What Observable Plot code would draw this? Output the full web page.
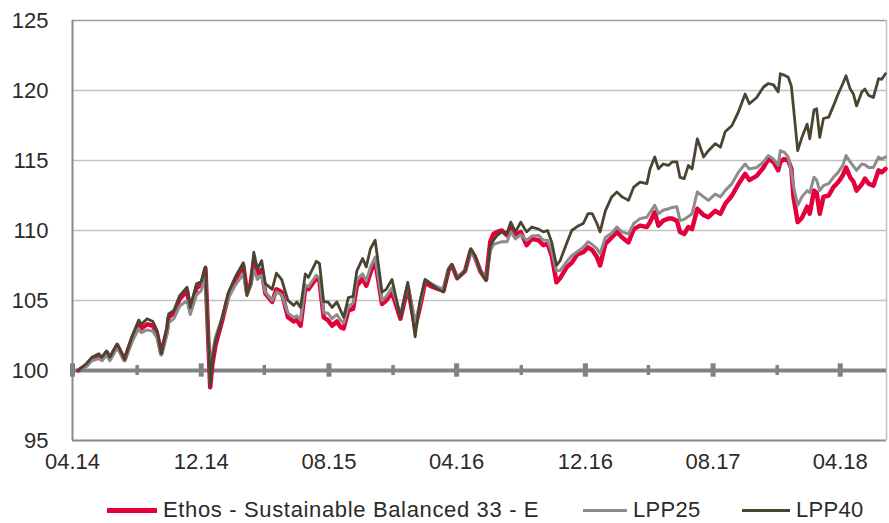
<!DOCTYPE html>
<html>
<head>
<meta charset="utf-8">
<script src="https://cdn.jsdelivr.net/npm/d3@7"></script>
<script src="https://cdn.jsdelivr.net/npm/@observablehq/plot@0.6"></script>
<style>
  html, body { margin: 0; padding: 0; background: #fff; }
  #wrap { position: relative; width: 889px; height: 523px; overflow: hidden; font-family: "Liberation Sans", Arial, sans-serif; color: #2b2b2b; }
  #legend { position: absolute; left: 0; top: 497px; width: 889px; height: 26px; font-size: 22px; line-height: 26px; }
  .item { position: absolute; top: 0; display: flex; align-items: center; white-space: nowrap; }
  .sw { display: inline-block; margin-right: 6px; }
</style>
</head>
<body>
<div id="wrap">
  <div id="chart"></div>
  <div id="legend"></div>
</div>
<script>
// ---- data ----
const seriesNames = ["Ethos - Sustainable Balanced 33 - E", "LPP25", "LPP40"];
const seriesColors = ["#e3003b", "#8c8c8c", "#4a4530"];

const dates = [
"2014-05-11","2014-05-27","2014-06-06","2014-06-19","2014-06-25","2014-07-04","2014-07-10","2014-07-24","2014-08-07","2014-08-22",
"2014-09-03","2014-09-08","2014-09-19","2014-09-30","2014-10-08","2014-10-16","2014-10-27","2014-10-30","2014-11-09","2014-11-20",
"2014-12-04","2014-12-10","2014-12-22","2014-12-31","2015-01-08","2015-01-17","2015-01-21","2015-01-27","2015-02-09","2015-02-21",
"2015-03-06","2015-03-21","2015-03-28","2015-04-04","2015-04-10","2015-04-17","2015-04-25","2015-05-02","2015-05-15","2015-05-23",
"2015-06-02","2015-06-14","2015-06-25","2015-07-01","2015-07-08","2015-07-17","2015-07-23","2015-08-07","2015-08-13","2015-08-21",
"2015-08-29","2015-09-06","2015-09-15","2015-09-22","2015-09-28","2015-10-07","2015-10-16","2015-10-23","2015-11-03","2015-11-10",
"2015-11-18","2015-11-27","2015-12-10","2015-12-18","2015-12-29","2016-01-14","2016-01-28","2016-02-11","2016-02-20","2016-03-01",
"2016-03-11","2016-03-24","2016-04-05","2016-04-15","2016-04-21","2016-05-01","2016-05-16","2016-05-27","2016-06-04","2016-06-14",
"2016-06-25","2016-07-03","2016-07-09","2016-07-16","2016-07-25","2016-08-04","2016-08-11","2016-08-20","2016-08-30","2016-09-10",
"2016-09-20","2016-10-03","2016-10-12","2016-10-20","2016-10-28","2016-11-06","2016-11-13","2016-11-26","2016-12-05","2016-12-16",
"2016-12-27","2017-01-05","2017-01-13","2017-01-22","2017-01-28","2017-02-07","2017-02-19","2017-03-01","2017-03-11","2017-03-23",
"2017-04-02","2017-04-14","2017-04-27","2017-05-03","2017-05-12","2017-05-19","2017-05-28","2017-06-07","2017-06-14","2017-06-23",
"2017-06-29","2017-07-07","2017-07-15","2017-07-22","2017-08-01","2017-08-13","2017-08-22","2017-09-04","2017-09-14","2017-09-23",
"2017-10-06","2017-10-18","2017-10-31","2017-11-08","2017-11-22","2017-12-05","2017-12-14","2017-12-24","2018-01-02","2018-01-06",
"2018-01-13","2018-01-21","2018-01-27","2018-01-31","2018-02-08","2018-02-16","2018-02-26","2018-03-03","2018-03-11","2018-03-16",
"2018-03-22","2018-03-29","2018-04-08","2018-04-17","2018-04-26","2018-05-05","2018-05-11","2018-05-19","2018-05-25","2018-05-31",
"2018-06-10","2018-06-16","2018-06-23","2018-07-02","2018-07-12","2018-07-18","2018-07-25"
];

const ethos = [
100,100.4,100.8,101.05,100.8,101.3,100.85,101.8,100.75,102.35,
103.3,103.0,103.3,103.2,102.6,101.2,102.9,103.8,104.1,105.1,
105.7,104.3,105.9,106.1,107.3,98.8,100.4,101.8,103.6,105.4,
106.5,107.5,105.6,106.2,107.8,106.9,107.2,105.5,104.9,105.8,
105.6,103.8,103.5,103.6,103.2,105.9,105.8,106.6,106.4,103.8,
103.6,103.2,103.5,103.1,103.0,104.3,104.4,106.05,106.55,106.05,
107.0,107.85,104.75,105.0,105.6,103.7,105.95,103.1,104.5,106.3,
106.05,105.85,105.7,107.2,107.5,106.6,107.1,108.6,108.1,107.1,
106.5,109.2,109.75,109.9,110.0,109.65,110.35,109.65,109.9,108.95,
109.4,109.3,108.95,109.05,108.2,106.3,106.6,107.4,107.7,108.3,
108.45,108.8,108.6,108.1,107.5,109.05,109.5,109.9,109.5,109.15,
110.1,110.35,110.25,110.6,111.3,110.35,110.7,110.85,110.85,110.7,
109.9,109.75,110.25,110.1,111.55,111.1,110.95,111.4,111.2,111.9,
112.5,113.3,114.05,113.6,113.9,114.5,115.1,114.9,114.3,114.9,
115.1,115.0,114.4,112.4,110.6,110.9,111.7,111.2,112.85,112.7,
111.2,112.4,112.5,113.1,113.45,113.95,114.5,113.8,113.5,112.85,
113.3,113.7,113.35,113.2,114.3,114.15,114.4
];

const lpp25 = [
100,100.3,100.7,100.85,100.7,101.1,100.7,101.6,100.7,102.1,
103.0,102.7,102.9,102.8,102.3,101.1,102.6,103.4,103.7,104.6,
105.0,104.0,105.4,105.7,106.9,99.2,101.2,102.4,103.8,105.2,
106.1,106.9,105.4,106.0,107.2,106.5,106.8,105.6,105.0,105.6,
105.4,104.1,103.8,103.9,103.6,106.1,106.0,106.8,106.6,104.1,
104.1,103.7,104.0,103.6,103.4,104.6,104.8,106.5,106.9,106.4,
107.4,108.1,105.0,105.3,105.9,104.0,106.1,103.5,104.7,106.5,
106.25,106.0,105.8,107.3,107.5,106.65,107.1,108.5,108.0,107.1,
106.6,108.5,109.0,109.1,109.2,109.2,109.9,109.4,109.7,109.3,
109.6,109.65,109.3,109.3,108.5,107.1,107.15,107.8,108.2,108.5,
108.8,109.2,109.0,108.7,108.35,109.5,109.8,110.25,109.9,109.75,
110.5,110.85,110.95,111.3,111.8,111.2,111.45,111.55,111.65,111.7,
110.7,110.8,111.0,111.2,112.75,112.4,112.15,112.6,112.4,112.85,
113.35,114.15,114.75,114.4,114.5,114.9,115.35,115.1,114.65,115.7,
115.6,115.25,114.2,113.2,111.8,112.4,112.85,112.7,113.8,113.6,
112.85,113.2,113.35,113.8,114.15,114.65,115.35,114.9,114.6,114.3,
114.75,114.7,114.5,114.5,115.25,115.1,115.25
];

const lpp40 = [
100,100.5,100.95,101.2,100.95,101.4,100.95,101.9,100.8,102.5,
103.6,103.3,103.7,103.5,102.85,101.2,103.1,104.05,104.3,105.35,
105.95,104.5,106.2,106.35,107.4,98.9,100.8,102.1,103.8,105.6,
106.7,107.7,105.35,106.2,108.45,107.25,107.85,106.2,105.8,106.95,
106.5,105.0,104.65,104.9,104.5,106.9,106.65,107.8,107.65,104.9,
104.9,104.5,104.9,104.3,103.8,105.2,105.3,107.1,108.0,107.4,
108.7,109.3,105.6,105.8,106.5,103.8,106.3,102.4,104.9,106.5,
106.2,105.85,105.6,107.25,107.6,106.55,107.1,108.7,108.2,107.1,
106.4,108.9,109.3,109.65,109.9,109.75,110.6,109.9,110.6,109.9,
110.25,110.1,109.9,110.0,109.15,107.5,107.85,109.15,110.0,110.3,
110.5,111.2,111.2,110.5,109.9,111.4,112.4,112.75,112.4,112.15,
113.1,113.45,113.35,114.4,115.25,114.4,114.75,114.65,114.9,114.9,
113.8,113.7,114.65,114.4,116.55,115.25,115.7,116.2,115.95,117.05,
117.5,118.45,119.75,119.05,119.5,120.25,120.5,120.4,119.9,121.2,
121.1,120.95,120.3,118.8,115.7,116.65,117.6,116.55,118.6,118.7,
116.65,118.0,118.1,118.9,119.75,120.5,121.05,120.1,119.75,118.9,
119.9,120.1,119.65,119.5,120.85,120.8,121.2
];

const yTicks = [95, 100, 105, 110, 115, 120, 125];
const gridValues = [105, 110, 115, 120];
const xDomain = ["2014-04-30", "2018-07-27"];
const majorTickDates = ["2014-04-30","2014-12-31","2015-08-31","2016-04-30","2016-12-31","2017-08-31","2018-04-30"];
const minorTickDates = ["2014-08-31","2015-04-30","2015-12-31","2016-08-31","2017-04-30","2017-12-31"];

// ---- build ----
const parse = s => new Date(s + "T00:00:00Z");
const rows = [];
const valueSets = [ethos, lpp25, lpp40];
seriesNames.forEach((name, k) => {
  dates.forEach((d, i) => rows.push({series: name, date: parse(d), value: valueSets[k][i]}));
});
const start = parse(xDomain[0]), end = parse(xDomain[1]);
const major = majorTickDates.map(parse);
const minor = minorTickDates.map(parse);
const widths = [4.5, 3, 2.8];

const chart = Plot.plot({
  width: 889,
  height: 487,
  marginLeft: 72,
  marginRight: 3,
  marginTop: 20,
  marginBottom: 47,
  style: {fontFamily: '"Liberation Sans", Arial, sans-serif', color: "#2b2b2b", background: "#fff", overflow: "visible"},
  x: {type: "utc", domain: [start, end]},
  y: {domain: [95, 125]},
  marks: [
    Plot.ruleY(gridValues, {stroke: "#c2c2c2", strokeWidth: 1.5}),
    Plot.ruleY([125], {stroke: "#9c9c9c", strokeWidth: 1.5}),
    Plot.ruleX([end], {stroke: "#c2c2c2", strokeWidth: 1.5}),
    Plot.ruleY([95], {stroke: "#8a8a8a", strokeWidth: 2}),
    Plot.ruleX([start], {stroke: "#8a8a8a", strokeWidth: 2}),
    Plot.ruleY([100], {stroke: "#828282", strokeWidth: 4}),
    Plot.ruleX(minor, {x: d => d, y1: 99.64, y2: 100.36, stroke: "#828282", strokeWidth: 3.5}),
    Plot.ruleX(major, {x: d => d, y1: 99.52, y2: 100.48, stroke: "#828282", strokeWidth: 5}),
    ...seriesNames.map((name, k) => Plot.line(rows.filter(r => r.series === name), {
      x: "date", y: "value", stroke: seriesColors[k], strokeWidth: widths[k], strokeLinejoin: "round"
    })),
    Plot.axisY({ticks: yTicks, tickSize: 0, tickPadding: 24, fontSize: 22, label: null}),
    Plot.axisX({ticks: major, tickFormat: d3.utcFormat("%m.%y"), tickSize: 0, tickPadding: 13, fontSize: 22, label: null})
  ]
});
document.getElementById("chart").appendChild(chart);

// ---- legend ----
const legend = document.getElementById("legend");
const legendPos = [107, 583, 742];
const swatchW = [50, 44, 48];
const swatchH = [5, 3, 3];
const letterSp = ["0.65px", "0.3px", "0.3px"];
seriesNames.forEach((name, k) => {
  const item = document.createElement("div");
  item.className = "item";
  item.style.left = legendPos[k] + "px";
  const sw = document.createElement("span");
  sw.className = "sw";
  sw.style.width = swatchW[k] + "px";
  sw.style.height = swatchH[k] + "px";
  sw.style.background = seriesColors[k];
  const t = document.createElement("span");
  t.textContent = name;
  t.style.letterSpacing = letterSp[k];
  item.appendChild(sw);
  item.appendChild(t);
  legend.appendChild(item);
});
</script>
</body>
</html>
